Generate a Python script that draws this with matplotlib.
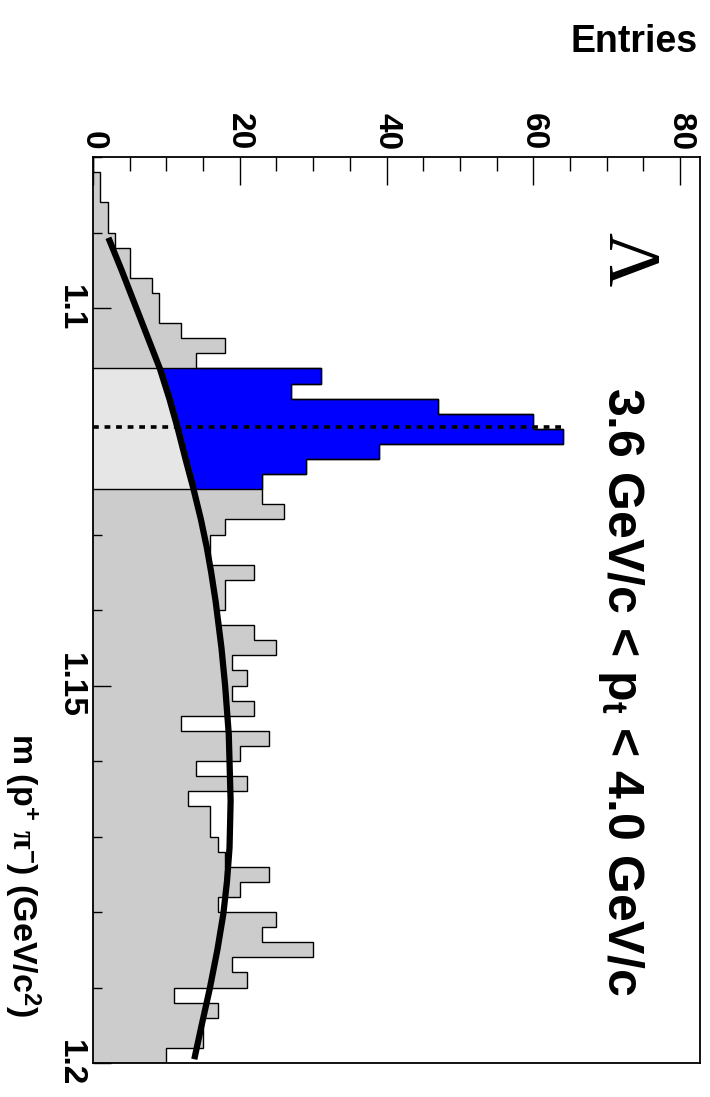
import numpy as np
import matplotlib
matplotlib.use("Agg")
import matplotlib.pyplot as plt

plt.rcParams["font.family"] = ["Liberation Sans", "DejaVu Sans"]
plt.rcParams["font.weight"] = "bold"
plt.rcParams["mathtext.fontset"] = "custom"
plt.rcParams["mathtext.rm"] = "Liberation Serif"
plt.rcParams["mathtext.bf"] = "Liberation Sans:bold"
plt.rcParams["mathtext.default"] = "rm"

# histogram of m(p pi), 60 bins of 2 MeV from 1.08 to 1.20
mass_lo = 1.08
mass_hi = 1.20
counts = [0, 1, 1, 2, 2, 3, 5, 5, 8, 9,
          9, 12, 18, 14, 31, 27, 47, 60, 64, 39,
          29, 23, 23, 26, 18, 16, 16, 22, 18, 18,
          17, 22, 25, 19, 21, 19, 22, 12, 24, 20,
          14, 21, 13, 16, 16, 17, 18, 24, 20, 17,
          25, 23, 30, 19, 21, 11, 17, 15, 15, 10]
# signal window (bins drawn in blue)
sig_first = 14
sig_last = 21

# background fit curve
fit_mass = [1.0907, 1.095, 1.100, 1.105, 1.108, 1.112, 1.1158, 1.120,
            1.124, 1.128, 1.1317, 1.135, 1.1388, 1.145, 1.150, 1.1565,
            1.1653, 1.1715, 1.176, 1.1803, 1.185, 1.1902, 1.195, 1.1995]
fit_val = [2.1, 3.9, 5.9, 7.9, 9.1, 10.4, 11.5, 12.6,
           13.7, 14.7, 15.5, 16.1, 16.7, 17.5, 18.0, 18.5,
           18.75, 18.6, 18.25, 17.75, 16.95, 15.9, 14.8, 13.8]

lambda_mass = 1.1157

edges = np.linspace(mass_lo, mass_hi, len(counts) + 1)
counts = np.array(counts)
fit_mass = np.array(fit_mass)
fit_val = np.array(fit_val)

fig = plt.figure(figsize=(7.1, 10.97), dpi=100)
W, H = 710.0, 1097.0
ax = fig.add_axes([93 / W, 1 - 1063 / H, (700 - 93) / W, (1063 - 157) / H])

# full histogram in grey
ax.stairs(counts, edges, orientation="horizontal", fill=True,
          facecolor="#cccccc", edgecolor="none", baseline=0, zorder=1)

# signal bins in blue
s_edges = edges[sig_first:sig_last + 2]
s_counts = counts[sig_first:sig_last + 1]
ax.stairs(s_counts, s_edges, orientation="horizontal", fill=True,
          facecolor="#0000ff", edgecolor="none", baseline=0, zorder=2)

# background under the peak, light grey
m_sig_lo, m_sig_hi = s_edges[0], s_edges[-1]
sel = (fit_mass >= m_sig_lo - 1e-9) & (fit_mass <= m_sig_hi + 1e-9)
ax.fill_betweenx(fit_mass[sel], 0, fit_val[sel], color="#e6e6e6",
                 linewidth=0, zorder=3)

# outlines
ax.stairs(counts, edges, orientation="horizontal", fill=False,
          edgecolor="black", linewidth=1.0, baseline=0, zorder=4)
ax.stairs(s_counts, s_edges, orientation="horizontal", fill=False,
          edgecolor="black", linewidth=1.0, baseline=0, zorder=4)

# fit function
ax.plot(fit_val, fit_mass, color="black", linewidth=4.5,
        solid_capstyle="butt", solid_joinstyle="round", zorder=5)

# nominal Lambda mass
ax.plot([0, counts.max()], [lambda_mass, lambda_mass], color="black",
        linewidth=2.6, dashes=(1.6, 1.6), zorder=6)

ax.set_xlim(0, 82.7)
ax.set_ylim(mass_hi, mass_lo)

ax.xaxis.tick_top()
ax.set_xticks([0, 20, 40, 60, 80])
ax.set_xticks(np.arange(0, 83, 5), minor=True)
ax.set_yticks([1.1, 1.15, 1.2])
ax.set_yticklabels(["1.1", "1.15", "1.2"])
ax.set_yticks(np.arange(1.08, 1.2001, 0.01), minor=True)

ax.tick_params(axis="x", which="major", direction="in", length=20,
               width=1.0, pad=5, labelsize=24, labelrotation=-90)
ax.tick_params(axis="x", which="minor", direction="in", length=10, width=1.0)
ax.tick_params(axis="y", which="major", direction="in", length=13,
               width=1.0, pad=5, labelsize=24, labelrotation=-90)
ax.tick_params(axis="y", which="minor", direction="in", length=6.5, width=1.0)
for lab in ax.get_xticklabels() + ax.get_yticklabels():
    lab.set_fontweight("bold")
for lab in ax.get_yticklabels():
    lab.set_verticalalignment("center")

for sp in ax.spines.values():
    sp.set_linewidth(1.3)
    sp.set_zorder(7)

# axis titles
fig.text(698 / W, 1 - 52 / H, "Entries", ha="right", va="baseline",
         fontsize=27, fontweight="bold")
fig.text(12 / W, 1 - 1017 / H,
         r"m (p$^{\mathbf{+}}$ $\pi^{\mathbf{-}}$) (GeV/c$^{\mathbf{2}}$)",
         rotation=-90, rotation_mode="anchor", ha="right", va="baseline",
         fontsize=24.5, fontweight="bold")

# labels inside the frame
fig.text(608 / W, 1 - 232 / H, "\u039b", rotation=-90, rotation_mode="anchor",
         ha="left", va="baseline", fontsize=54, fontweight="normal",
         family="Liberation Serif")
fig.text(608 / W, 1 - 387 / H, r"3.6 GeV/c < p$_{\mathbf{t}}$ < 4.0 GeV/c",
         rotation=-90, rotation_mode="anchor", ha="left", va="baseline",
         fontsize=36, fontweight="bold")

fig.savefig("out.png", dpi=100)
